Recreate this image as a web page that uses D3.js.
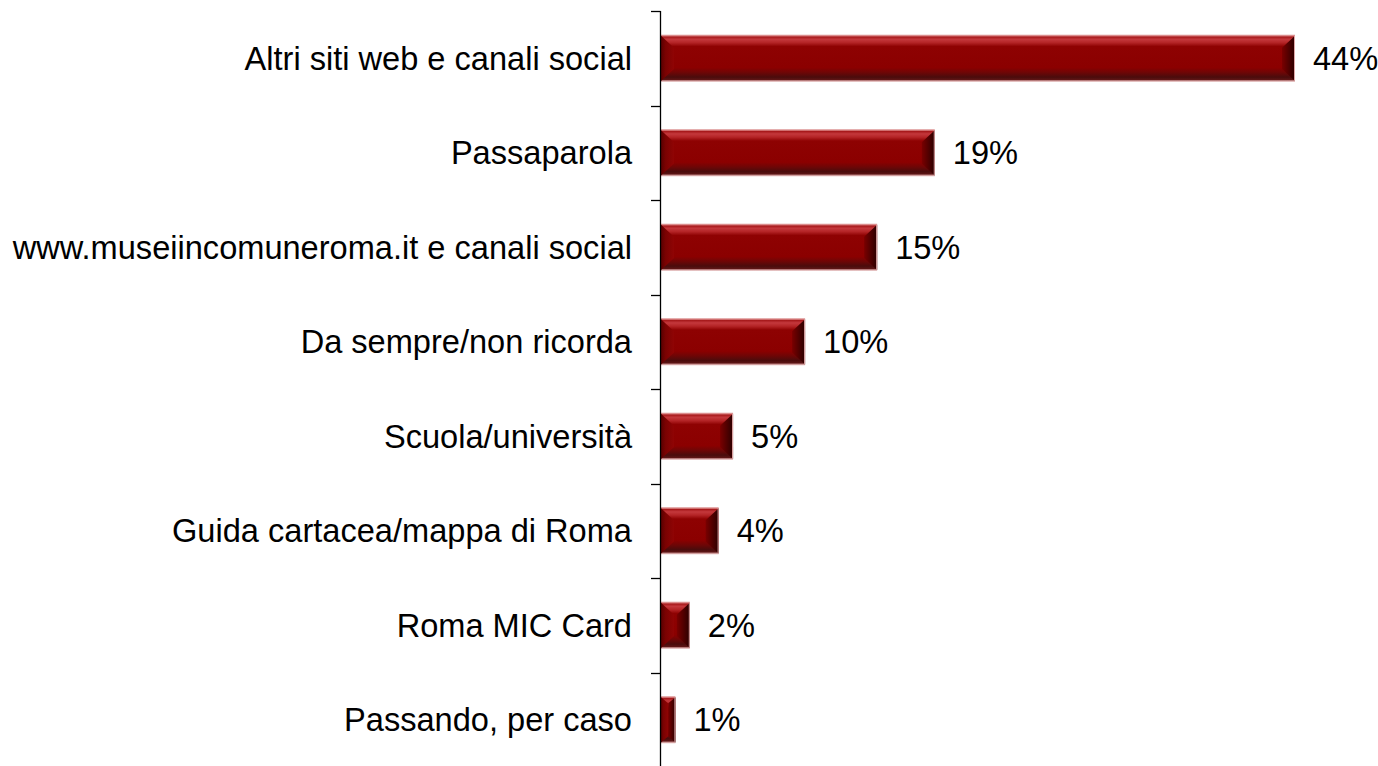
<!DOCTYPE html>
<html>
<head>
<meta charset="utf-8">
<script src="https://cdn.jsdelivr.net/npm/d3@7/dist/d3.min.js"></script>
<style>
  html, body { margin: 0; padding: 0; background: #fff; }
  svg { display: block; }
  text { font-family: "Liberation Sans", Arial, sans-serif; fill: #000; }
</style>
</head>
<body>
<svg id="chart" width="1378" height="766"></svg>
<script>
// Come ha conosciuto il museo (% risposte)
const categories = [
  "Altri siti web e canali social",
  "Passaparola",
  "www.museiincomuneroma.it e canali social",
  "Da sempre/non ricorda",
  "Scuola/università",
  "Guida cartacea/mappa di Roma",
  "Roma MIC Card",
  "Passando, per caso"
];
const values = [44, 19, 15, 10, 5, 4, 2, 1];
const valueLabels = ["44%", "19%", "15%", "10%", "5%", "4%", "2%", "1%"];

const data = categories.map((c, i) => ({ cat: c, val: values[i], lab: valueLabels[i] }));

const svg = d3.select("#chart");
const margin = { left: 661, top: 11, bottom: 767 };
const fontSize = 32.6;

const x = d3.scaleLinear().domain([0, 44]).range([margin.left, 1295]);
const y = d3.scaleBand().domain(categories).range([margin.top, margin.bottom]).paddingInner(0.5).paddingOuter(0.25);
const yStep = y.step();

const defs = svg.append("defs");

// Bevelled body: light rim on top, dark rim at the bottom
const gBody = defs.append("linearGradient").attr("id", "body").attr("x1", 0).attr("y1", 0).attr("x2", 0).attr("y2", 1);
[
  [0.00, "#e6b4b4"], [0.025, "#d88080"], [0.05, "#a81a1c"], [0.10, "#c4383c"],
  [0.17, "#b42426"], [0.25, "#8e0202"], [0.70, "#8b0000"], [0.80, "#6e0606"],
  [0.90, "#4a0c0c"], [0.95, "#5c1414"], [0.975, "#c89090"], [1.00, "#eccaca"]
].forEach(([o, c]) => gBody.append("stop").attr("offset", o).attr("stop-color", c));

const gLeft = defs.append("linearGradient").attr("id", "leftEnd").attr("x1", 0).attr("y1", 0).attr("x2", 1).attr("y2", 0);
[[0, "#5a0000"], [0.35, "#7a0202"], [1, "#900404"]]
  .forEach(([o, c]) => gLeft.append("stop").attr("offset", o).attr("stop-color", c));

const gRight = defs.append("linearGradient").attr("id", "rightEnd").attr("x1", 0).attr("y1", 0).attr("x2", 1).attr("y2", 0);
[[0, "#7a0000"], [0.6, "#4a0000"], [1, "#2a0000"]]
  .forEach(([o, c]) => gRight.append("stop").attr("offset", o).attr("stop-color", c));

const bars = svg.append("g").selectAll("g").data(data).join("g");

bars.each(function (d) {
  const g = d3.select(this);
  const x0 = x(0), x1 = x(d.val);
  const y0 = y(d.cat), y1 = y0 + y.bandwidth();
  const w = x1 - x0;
  const b = Math.min(13, w / 2);
  g.append("rect").attr("x", x0).attr("y", y0).attr("width", w).attr("height", y1 - y0).attr("fill", "url(#body)");
  g.append("polygon")
    .attr("points", [[x0, y0 + 1], [x0 + b, y0 + b], [x0 + b, y1 - b], [x0, y1 - 1]].map(p => p.join(",")).join(" "))
    .attr("fill", "url(#leftEnd)");
  g.append("polygon")
    .attr("points", [[x1, y0 + 1], [x1 - b, y0 + b], [x1 - b, y1 - b], [x1, y1 - 1]].map(p => p.join(",")).join(" "))
    .attr("fill", "url(#rightEnd)");
  g.append("line").attr("x1", x1 - 0.5).attr("x2", x1 - 0.5).attr("y1", y0 + 1).attr("y2", y1 - 1)
    .attr("stroke", "#e0a8a8").attr("stroke-width", 1);
});

// Value labels
svg.append("g").selectAll("text").data(data).join("text")
  .attr("x", d => x(d.val) + 18)
  .attr("y", d => y(d.cat) + y.bandwidth() / 2)
  .attr("dy", "0.35em")
  .attr("font-size", fontSize)
  .text(d => d.lab);

// Category labels
svg.append("g").selectAll("text").data(data).join("text")
  .attr("x", margin.left - 29)
  .attr("y", d => y(d.cat) + y.bandwidth() / 2)
  .attr("dy", "0.35em")
  .attr("text-anchor", "end")
  .attr("font-size", fontSize)
  .text(d => d.cat);

// Category axis with ticks between the bands
const axis = svg.append("g");
axis.append("line")
  .attr("x1", margin.left - 0.5).attr("x2", margin.left - 0.5)
  .attr("y1", margin.top).attr("y2", margin.bottom)
  .attr("stroke", "#000").attr("stroke-width", 1.3);
const tickYs = categories.map(c => y(c) - yStep * 0.25).concat([margin.bottom]);
axis.selectAll("line.tick").data(tickYs).join("line")
  .attr("class", "tick")
  .attr("x1", margin.left - 10).attr("x2", margin.left - 0.5)
  .attr("y1", d => Math.round(d) + 0.5).attr("y2", d => Math.round(d) + 0.5)
  .attr("stroke", "#000").attr("stroke-width", 1.3);
</script>
</body>
</html>
